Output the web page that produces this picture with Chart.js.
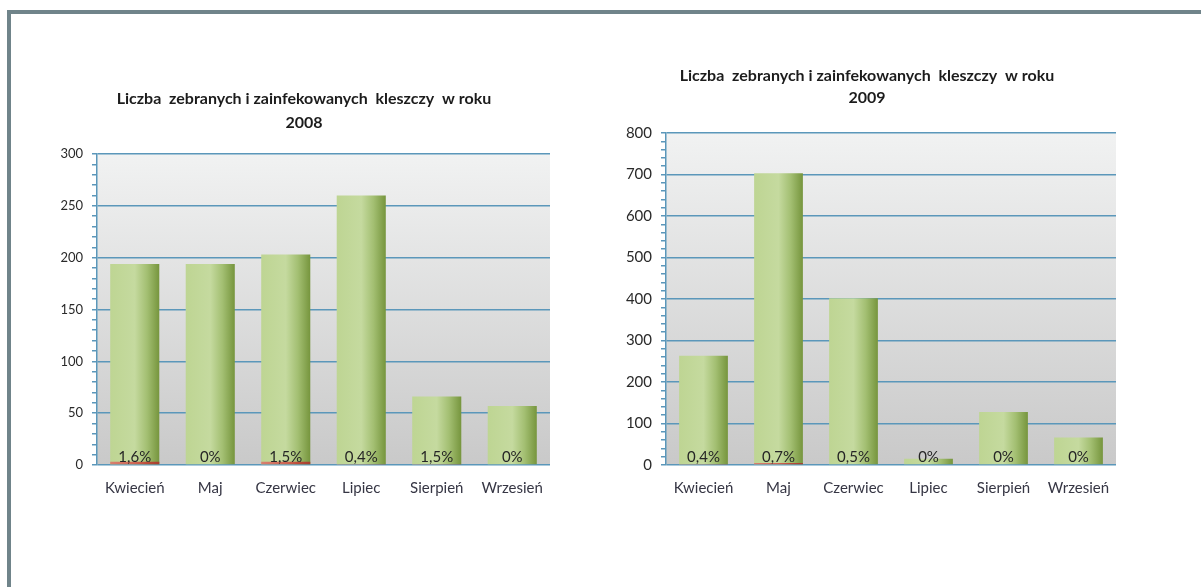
<!DOCTYPE html>
<html>
<head>
<meta charset="utf-8">
<script src="https://cdn.jsdelivr.net/npm/chart.js@4/dist/chart.umd.min.js"></script>
<style>
  html, body { margin: 0; padding: 0; background: #fff; }
  body { width: 1201px; height: 587px; position: relative; overflow: hidden; }
  #frame { position: absolute; left: 7px; top: 10px; width: 1300px; height: 700px;
           border-top: 4px solid #70848a; border-left: 4px solid #70848a; }
  canvas { position: absolute; }
  #chart2008 { left: 58px; top: 60px; }
  #chart2009 { left: 618px; top: 40px; }
</style>
</head>
<body>
<div id="frame"></div>
<canvas id="chart2008" width="560" height="460"></canvas>
<canvas id="chart2009" width="560" height="480"></canvas>
<script>
var months = ['Kwiecień', 'Maj', 'Czerwiec', 'Lipiec', 'Sierpień', 'Wrzesień'];

// liczba zebranych kleszczy
var collected2008 = [194, 194, 203, 260, 66, 57];
var collected2009 = [263, 703, 402, 15, 128, 66];

// odsetek zainfekowanych (%)
var infectedPct2008 = [1.6, 0, 1.5, 0.4, 1.5, 0];
var infectedPct2009 = [0.4, 0.7, 0.5, 0, 0, 0];

var yMax2008 = 300, yStep2008 = 50;
var yMax2009 = 800, yStep2009 = 100;

var titleLines2008 = ['Liczba  zebranych i zainfekowanych  kleszczy  w roku', '2008'];
var titleLines2009 = ['Liczba  zebranych i zainfekowanych  kleszczy  w roku', '2009'];

var BAR_PCT = 0.65;
var GRID = '#5b97ba';

function infectedCounts(collected, pct) {
    return collected.map(function(v, i) { return v * pct[i] / 100; });
}

function barGradient(stops) {
    return function(ctx) {
        var chart = ctx.chart;
        var x = chart.scales.x;
        if (!x || !chart.chartArea) return stops[1];
        var cx = x.getPixelForValue(ctx.dataIndex);
        var w = (x.width / months.length) * BAR_PCT;
        var g = chart.ctx.createLinearGradient(cx - w / 2, 0, cx + w / 2, 0);
        g.addColorStop(0, stops[0]);
        g.addColorStop(0.5, stops[1]);
        g.addColorStop(0.75, stops[2]);
        g.addColorStop(1, stops[3]);
        return g;
    };
}

var plotBackground = {
    id: 'plotBackground',
    beforeDraw: function(chart) {
        var a = chart.chartArea, c = chart.ctx;
        var g = c.createLinearGradient(0, a.top, 0, a.bottom);
        g.addColorStop(0, '#f1f2f2');
        g.addColorStop(1, '#c9c9c9');
        c.save();
        c.fillStyle = g;
        c.fillRect(a.left, a.top, a.right - a.left, a.bottom - a.top);
        c.restore();
    }
};

var pctLabels = {
    id: 'pctLabels',
    afterDatasetsDraw: function(chart, args, opts) {
        var c = chart.ctx;
        var meta = chart.getDatasetMeta(0);
        var base = chart.scales.y.getPixelForValue(0);
        c.save();
        c.font = opts.font;
        c.fillStyle = '#262626';
        c.textAlign = 'center';
        c.textBaseline = 'alphabetic';
        opts.values.forEach(function(p, i) {
            var txt = String(p).replace('.', ',') + '%';
            c.fillText(txt, meta.data[i].x, base - 3);
        });
        c.restore();
    }
};

function makeChart(id, collected, pct, yMax, yStep, title, cfg) {
    return new Chart(document.getElementById(id).getContext('2d'), {
        type: 'bar',
        data: {
            labels: months,
            datasets: [{
                label: 'zainfekowane',
                data: infectedCounts(collected, pct),
                order: 0,
                backgroundColor: barGradient(['#d8806f', '#cf6552', '#bd4c38', '#a5402f']),
                barPercentage: BAR_PCT,
                categoryPercentage: 1
            }, {
                label: 'zebrane',
                data: collected,
                order: 1,
                backgroundColor: barGradient(['#bed593', '#c5da9f', '#a3bf72', '#76953d']),
                barPercentage: BAR_PCT,
                categoryPercentage: 1
            }]
        },
        options: {
            responsive: false,
            animation: false,
            layout: { padding: { left: 0, right: cfg.padRight, top: 0, bottom: 0 } },
            plugins: {
                legend: { display: false },
                tooltip: { enabled: false },
                title: {
                    display: true,
                    text: title,
                    color: '#1c1c1c',
                    font: { family: 'Lato', size: 16, weight: 'bold', lineHeight: cfg.titleLine },
                    padding: { top: cfg.titleTop, bottom: cfg.titleBottom }
                },
                pctLabels: { values: pct, font: cfg.pctFont }
            },
            scales: {
                x: {
                    stacked: true,
                    grid: { display: false, drawTicks: false },
                    border: { display: false },
                    ticks: { color: '#363644', padding: 14, font: { family: 'Lato', size: 15 } },
                    afterFit: function(s) { s.height = cfg.xHeight; }
                },
                y: {
                    min: 0,
                    max: yMax,
                    border: { color: GRID, width: 1.5 },
                    grid: {
                        color: function(ctx) { return ctx.tick && ctx.tick.value % yStep === 0 ? GRID : 'rgba(0,0,0,0)'; },
                        lineWidth: 1.5,
                        tickColor: GRID,
                        tickLength: 5
                    },
                    ticks: {
                        stepSize: yStep / 5,
                        autoSkip: false,
                        padding: 9,
                        color: '#2a2a2a',
                        font: { family: 'Lato', size: cfg.yFont },
                        callback: function(v) { return v % yStep === 0 ? v : ''; }
                    },
                    afterFit: function(s) { s.width = cfg.yWidth; }
                }
            }
        },
        plugins: [plotBackground, pctLabels]
    });
}

makeChart('chart2008', collected2008, infectedPct2008, yMax2008, yStep2008, titleLines2008, {
    padRight: 68, yWidth: 39, xHeight: 55,
    titleTop: 27, titleBottom: 19, titleLine: 24 / 16,
    yFont: 13, pctFont: '15px Lato'
});

makeChart('chart2009', collected2009, infectedPct2009, yMax2009, yStep2009, titleLines2009, {
    padRight: 62, yWidth: 48, xHeight: 55,
    titleTop: 25, titleBottom: 24, titleLine: 22 / 16,
    yFont: 15, pctFont: '15px Lato'
});
</script>
</body>
</html>
